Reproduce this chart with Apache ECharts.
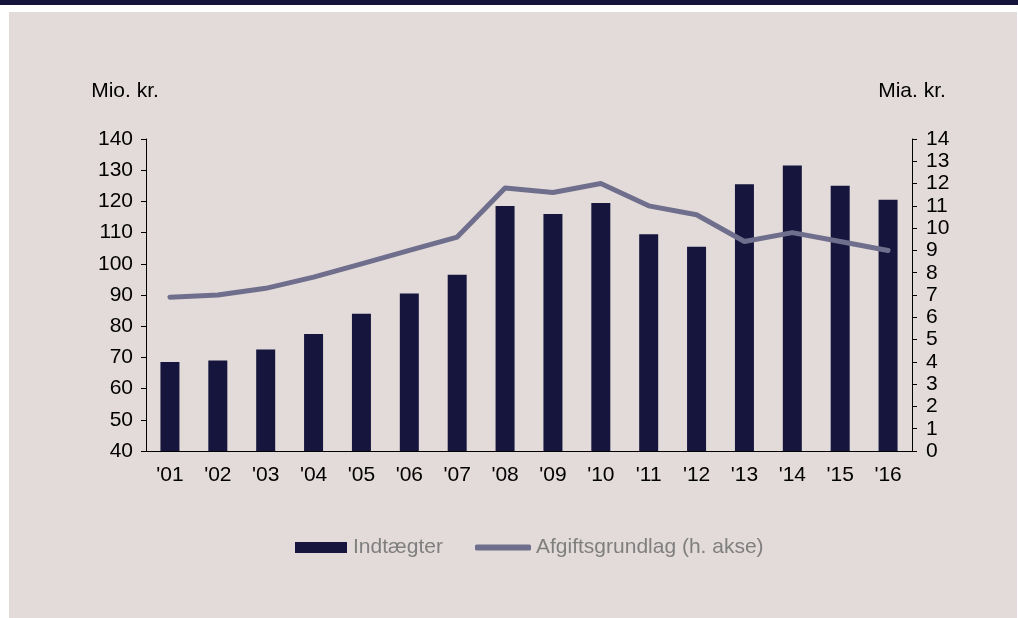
<!DOCTYPE html>
<html><head><meta charset="utf-8">
<script src="https://cdn.jsdelivr.net/npm/echarts@6/dist/echarts.min.js"></script>
<style>html,body{margin:0;padding:0;background:#ffffff;}#c{width:1018px;height:618px;}</style>
</head><body><div id="c"></div>
<script>
const categories = ["'01","'02","'03","'04","'05","'06","'07","'08","'09","'10","'11","'12","'13","'14","'15","'16"];
const indtaegter = [68.5, 69, 72.5, 77.5, 84, 90.5, 96.5, 118.5, 116, 119.5, 109.5, 105.5, 125.5, 131.5, 125, 120.5];
const afgiftsgrundlag = [6.9, 7.0, 7.3, 7.8, 8.4, 9.0, 9.6, 11.8, 11.6, 12.0, 11.0, 10.6, 9.4, 9.8, 9.4, 9.0];
const seriesNames = ["Indtægter", "Afgiftsgrundlag (h. akse)"];
const axisNames = ["Mio. kr.", "Mia. kr."];

const font = "'Liberation Sans', Arial, Helvetica, sans-serif";
const fs = 21;
const chart = echarts.init(document.getElementById('c'), null, {renderer:'canvas'});
chart.setOption({
  backgroundColor: '#ffffff',
  animation: false,
  textStyle: {fontFamily: font},
  graphic: [
    {type:'rect', z:-10, shape:{x:0,y:0,width:1018,height:5}, style:{fill:'#14143c'}},
    {type:'rect', z:-10, shape:{x:9,y:12,width:1008,height:606}, style:{fill:'#e3dbd9'}}
  ],
  grid: {left:146, right:106, top:139, bottom:167},
  legend: [
    {left: 295, top: 537, padding: 0,
     itemWidth: 52, itemHeight: 11,
     textStyle: {color:'#7f7f7f', fontSize:fs, fontFamily: font, padding:[0,0,0,1]},
     data: [{name: seriesNames[0], icon: 'rect'}]},
    {left: 475, top: 537, padding: 0,
     itemWidth: 56, itemHeight: 6,
     textStyle: {color:'#7f7f7f', fontSize:fs, fontFamily: font},
     data: [{name: seriesNames[1], icon: 'roundRect', itemStyle:{color:'#6f6f8d'}}]}
  ],
  xAxis: {
    type:'category', data: categories,
    axisLine:{lineStyle:{color:'#000', width:1}},
    axisTick:{show:false},
    axisLabel:{color:'#000', fontSize:fs, margin:14}
  },
  yAxis: [
    {type:'value', min:40, max:140, interval:10, name: axisNames[0], nameLocation:'end', nameGap:37,
     nameTextStyle:{color:'#000', fontSize:fs, padding:[0,42,0,0]},
     axisLine:{show:true, lineStyle:{color:'#000', width:1}},
     axisTick:{show:true, length:5, lineStyle:{color:'#000'}},
     splitLine:{show:false},
     axisLabel:{color:'#000', fontSize:fs, margin:13}},
    {type:'value', min:0, max:14, interval:1, name: axisNames[1], nameLocation:'end', nameGap:37,
     nameTextStyle:{color:'#000', fontSize:fs},
     axisLine:{show:true, lineStyle:{color:'#000', width:1}},
     axisTick:{show:true, length:5, lineStyle:{color:'#000'}},
     splitLine:{show:false},
     axisLabel:{color:'#000', fontSize:fs, margin:14}}
  ],
  series: [
    {name: seriesNames[0], type:'bar', data: indtaegter, yAxisIndex:0, barWidth:19,
     itemStyle:{color:'#15153d'}},
    {name: seriesNames[1], type:'line', data: afgiftsgrundlag, yAxisIndex:1, symbol:'none',
     lineStyle:{color:'#6f6f8d', width:5, cap:'round', join:'round'}, itemStyle:{color:'#6f6f8d'}}
  ]
});
</script></body></html>
